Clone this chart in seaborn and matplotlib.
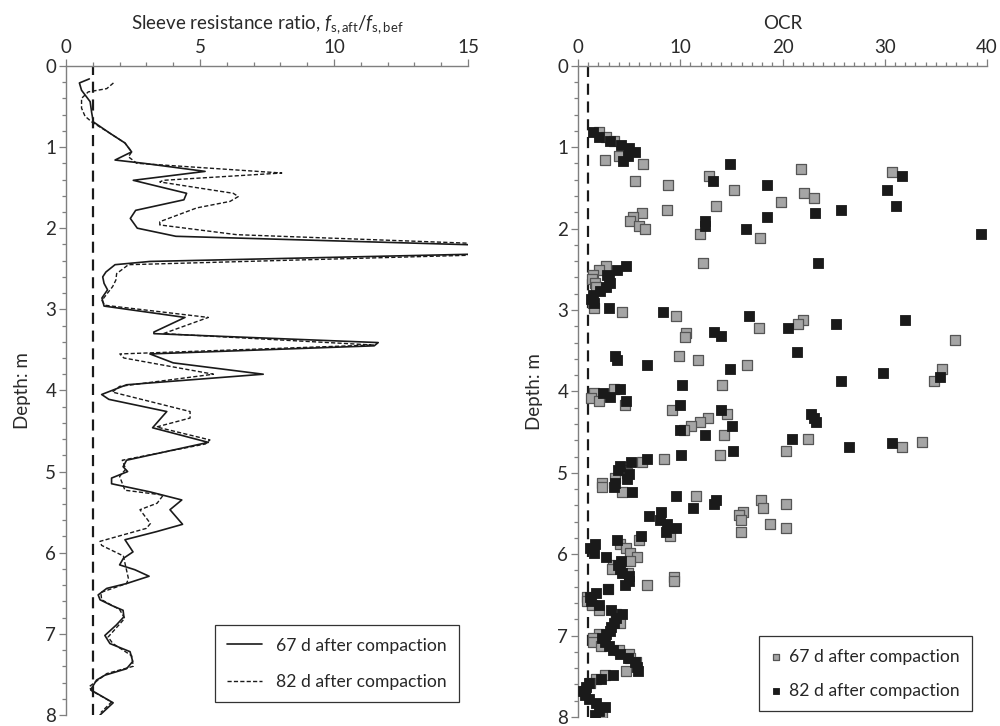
"""
Sleeve resistance ratio and OCR profiles against depth,
67 d and 82 d after compaction.
"""

import matplotlib
matplotlib.use("Agg")
import matplotlib.pyplot as plt
import seaborn as sns
from matplotlib.ticker import MultipleLocator

# ── Sleeve resistance ratio, 67 d (solid) ──────────────────────────────────
depth_67 = [0.16, 0.21, 0.30, 0.44, 0.58, 0.69, 0.83, 0.95, 1.06, 1.09,
            1.16, 1.20, 1.30, 1.41, 1.49, 1.57, 1.65, 1.78, 1.88, 2.00,
            2.10, 2.27, 2.41, 2.45, 2.54, 2.60, 2.68, 2.76, 2.86, 2.96,
            3.10, 3.28, 3.30, 3.41, 3.45, 3.55, 3.66, 3.80, 3.93, 4.05,
            4.11, 4.26, 4.46, 4.64, 4.86, 4.94, 5.00, 5.08, 5.15, 5.25,
            5.35, 5.47, 5.65, 5.74, 5.84, 5.99, 6.07, 6.15, 6.21, 6.29,
            6.38, 6.44, 6.52, 6.58, 6.65, 6.71, 6.79, 6.89, 7.02, 7.12,
            7.22, 7.34, 7.43, 7.51, 7.57, 7.69, 7.85, 8.00]
ratio_67 = [0.87, 0.50, 0.58, 0.90, 0.96, 1.02, 1.64, 2.20, 2.45, 2.26,
            1.83, 2.89, 5.19, 2.51, 3.50, 4.50, 4.40, 2.60, 2.40, 2.66,
            4.10, 22.0, 3.13, 1.83, 1.49, 1.37, 1.42, 1.55, 1.34, 1.42,
            4.44, 3.28, 3.28, 11.65, 11.50, 3.13, 4.00, 7.36, 2.26, 1.33,
            1.60, 3.76, 3.23, 5.31, 2.26, 2.13, 2.30, 1.70, 1.70, 3.13,
            4.32, 3.88, 4.35, 3.38, 2.20, 2.50, 2.14, 2.00, 2.57, 3.10,
            2.26, 1.52, 1.20, 1.27, 1.70, 2.13, 2.16, 1.88, 1.45, 1.64,
            2.39, 2.49, 2.26, 1.45, 1.14, 0.92, 1.76, 1.27]

# ── Sleeve resistance ratio, 82 d (dashed) ─────────────────────────────────
depth_82 = [0.21, 0.28, 0.32, 0.40, 0.52, 0.62, 0.69, 0.83, 0.95, 1.06,
            1.12, 1.20, 1.32, 1.41, 1.43, 1.57, 1.61, 1.67, 1.75, 1.92,
            1.96, 2.08, 2.27, 2.45, 2.56, 2.64, 2.72, 2.80, 2.89, 2.95,
            3.10, 3.30, 3.44, 3.55, 3.60, 3.80, 3.95, 4.02, 4.26, 4.34,
            4.45, 4.61, 4.66, 4.86, 4.97, 5.06, 5.23, 5.29, 5.39, 5.47,
            5.64, 5.70, 5.86, 5.91, 6.04, 6.32, 6.38, 6.49, 6.58, 6.70,
            6.81, 7.04, 7.12, 7.27, 7.40, 7.49, 7.65, 7.70, 7.84, 7.97]
ratio_82 = [1.77, 1.52, 0.83, 0.58, 0.58, 0.71, 0.96, 1.64, 2.20, 2.45,
            2.33, 2.64, 8.05, 3.63, 3.50, 6.24, 6.43, 6.12, 4.88, 3.50,
            3.50, 6.37, 22.0, 2.33, 1.89, 1.86, 1.74, 1.55, 1.34, 1.45,
            5.31, 3.63, 11.47, 2.01, 2.16, 5.50, 2.00, 1.73, 4.63, 4.63,
            3.38, 5.37, 5.20, 2.10, 2.23, 2.00, 2.20, 3.63, 3.40, 2.76,
            3.15, 3.00, 1.27, 1.33, 2.14, 2.33, 2.26, 1.30, 1.33, 2.00,
            2.19, 1.57, 1.75, 2.45, 2.51, 1.52, 0.87, 0.95, 1.70, 1.30]

# ── OCR, 67 d (grey squares) ───────────────────────────────────────────────
ocr_depth_67 = [0.81, 0.87, 0.92, 1.11, 1.16, 1.21, 1.27, 1.31, 1.36, 1.41,
                1.47, 1.52, 1.56, 1.62, 1.67, 1.72, 1.77, 1.81, 1.86, 1.91,
                1.97, 2.01, 2.07, 2.12, 2.42, 2.46, 2.51, 2.57, 2.62, 2.67,
                2.72, 2.92, 2.98, 3.02, 3.07, 3.12, 3.17, 3.22, 3.28, 3.33,
                3.37, 3.57, 3.62, 3.67, 3.72, 3.87, 3.92, 3.97, 4.02, 4.08,
                4.12, 4.17, 4.23, 4.28, 4.33, 4.38, 4.43, 4.47, 4.53, 4.58,
                4.62, 4.68, 4.73, 4.78, 4.83, 4.87, 4.93, 4.97, 5.00, 5.07,
                5.13, 5.18, 5.23, 5.28, 5.33, 5.38, 5.43, 5.48, 5.52, 5.58,
                5.63, 5.68, 5.73, 5.78, 5.83, 5.88, 5.93, 5.98, 6.03, 6.08,
                6.13, 6.18, 6.23, 6.28, 6.33, 6.38, 6.43, 6.53, 6.58, 6.63,
                6.68, 6.73, 6.78, 6.84, 6.98, 7.03, 7.08, 7.13, 7.18, 7.23,
                7.28, 7.33, 7.43, 7.48, 7.53, 7.58, 7.68, 7.95]
ocr_67 = [2.06, 2.70, 3.50, 4.00, 2.64, 6.37, 21.8, 30.7, 12.8, 5.55,
          8.80, 15.3, 22.1, 23.1, 19.9, 13.5, 8.75, 6.24, 5.40, 5.10,
          6.00, 6.56, 11.9, 17.8, 12.2, 2.70, 2.10, 1.47, 1.40, 1.70,
          1.80, 1.50, 1.60, 4.28, 9.63, 22.0, 21.5, 17.7, 10.6, 10.5,
          36.9, 9.83, 11.7, 16.5, 35.6, 34.8, 14.1, 3.50, 1.60, 1.24,
          2.06, 4.60, 9.24, 14.6, 12.7, 11.9, 11.1, 10.4, 14.3, 22.5,
          33.6, 31.7, 20.3, 13.9, 8.40, 6.30, 4.70, 4.60, 4.80, 3.60,
          2.38, 2.30, 4.34, 11.5, 17.9, 20.3, 18.1, 16.1, 15.7, 15.9,
          18.8, 20.3, 15.9, 9.04, 6.00, 4.15, 4.67, 5.06, 5.78, 5.06,
          3.43, 3.36, 4.90, 9.37, 9.37, 6.70, 2.94, 0.88, 0.88, 1.34,
          2.06, 3.69, 3.76, 4.15, 2.10, 1.47, 1.47, 2.22, 4.00, 5.00,
          5.13, 5.65, 4.73, 2.60, 1.73, 1.20, 0.65, 2.38]

# ── OCR, 82 d (black squares) ──────────────────────────────────────────────
ocr_depth_82 = [0.81, 0.87, 0.92, 0.97, 1.01, 1.06, 1.11, 1.17, 1.21, 1.36,
                1.41, 1.47, 1.52, 1.72, 1.77, 1.81, 1.86, 1.91, 1.97, 2.01,
                2.07, 2.42, 2.46, 2.51, 2.57, 2.62, 2.67, 2.72, 2.77, 2.82,
                2.87, 2.92, 2.97, 3.02, 3.07, 3.12, 3.17, 3.22, 3.27, 3.32,
                3.52, 3.57, 3.62, 3.67, 3.72, 3.77, 3.82, 3.87, 3.92, 3.97,
                4.02, 4.07, 4.12, 4.17, 4.23, 4.28, 4.33, 4.38, 4.43, 4.48,
                4.53, 4.58, 4.63, 4.68, 4.73, 4.78, 4.83, 4.87, 4.92, 4.97,
                5.02, 5.08, 5.13, 5.18, 5.23, 5.28, 5.33, 5.38, 5.43, 5.48,
                5.53, 5.58, 5.63, 5.68, 5.73, 5.78, 5.83, 5.88, 5.93, 5.98,
                6.03, 6.08, 6.13, 6.18, 6.23, 6.27, 6.33, 6.38, 6.43, 6.48,
                6.53, 6.58, 6.63, 6.68, 6.73, 6.78, 6.84, 6.89, 6.94, 6.98,
                7.03, 7.08, 7.13, 7.18, 7.23, 7.28, 7.33, 7.38, 7.43, 7.48,
                7.53, 7.58, 7.63, 7.68, 7.73, 7.78, 7.83, 7.88, 7.93, 7.98]
ocr_82 = [1.47, 2.10, 3.10, 4.24, 5.00, 5.55, 4.90, 4.40, 14.9, 31.7,
          13.2, 18.5, 30.2, 31.1, 25.7, 23.2, 18.5, 12.4, 12.4, 16.4,
          39.4, 23.5, 4.73, 3.80, 2.84, 3.00, 3.17, 2.70, 2.20, 1.47,
          1.30, 1.60, 3.00, 8.36, 16.7, 32.0, 25.2, 20.5, 13.3, 14.0,
          21.4, 3.60, 3.85, 6.70, 14.9, 29.8, 35.4, 25.7, 10.2, 4.10,
          2.45, 3.10, 4.73, 9.96, 14.0, 22.8, 23.1, 23.3, 15.1, 9.96,
          12.4, 20.9, 30.7, 26.5, 15.2, 10.1, 6.70, 5.20, 4.10, 3.90,
          5.00, 4.80, 3.60, 3.50, 5.30, 9.57, 13.45, 13.3, 11.2, 8.10,
          6.90, 8.00, 8.75, 9.63, 8.65, 6.14, 3.82, 1.63, 1.14, 1.57,
          2.78, 4.24, 3.92, 4.15, 4.34, 5.00, 5.00, 4.57, 2.94, 1.80,
          1.20, 1.24, 2.06, 3.20, 4.34, 3.69, 3.50, 3.26, 3.10, 2.70,
          2.38, 2.60, 3.00, 3.43, 4.08, 4.90, 5.55, 5.78, 5.88, 3.43,
          2.22, 1.08, 0.75, 0.49, 0.70, 1.08, 1.80, 2.60, 2.10, 1.63]

LABEL_67 = "67 d after compaction"
LABEL_82 = "82 d after compaction"

sns.set_style("white")
plt.rcParams["font.family"] = ["Lato", "DejaVu Sans"]
plt.rcParams["mathtext.fontset"] = "custom"
plt.rcParams["mathtext.rm"] = "Lato"
plt.rcParams["mathtext.it"] = "Lato:italic"

INK = "#1a1a1a"
SPINE = "#7f7f7f"
TXT = "#2a2a2a"
FS = 13.5
LEG_FS = 12.6


def style_axis(ax, xmax, xmajor, xlabel):
    ax.set_xlim(0, xmax)
    ax.set_ylim(8, 0)
    ax.xaxis.set_label_position("top")
    ax.xaxis.tick_top()
    ax.xaxis.set_major_locator(MultipleLocator(xmajor))
    ax.xaxis.set_minor_locator(MultipleLocator(1))
    ax.yaxis.set_major_locator(MultipleLocator(1))
    ax.yaxis.set_minor_locator(MultipleLocator(0.2))
    ax.tick_params(which="both", colors=SPINE, labelcolor=TXT,
                   labelsize=FS, width=0.9)
    ax.tick_params(which="major", length=5, pad=2)
    ax.tick_params(which="minor", length=3)
    ax.tick_params(axis="x", which="both", top=True, bottom=False,
                   direction="out")
    ax.tick_params(axis="y", which="both", left=True, direction="out")
    for side in ("right", "bottom"):
        ax.spines[side].set_visible(False)
    for side in ("left", "top"):
        ax.spines[side].set_color(SPINE)
        ax.spines[side].set_linewidth(1.0)
    ax.set_xlabel(xlabel, fontsize=FS, color=TXT, labelpad=7)
    ax.set_ylabel("Depth: m", fontsize=FS, color=TXT, labelpad=10)
    ax.axvline(1, color=INK, lw=1.6, ls=(0, (5, 3)), zorder=1)


fig = plt.figure(figsize=(10, 7.26), dpi=100)
ax1 = fig.add_axes([0.066, 0.0152, 0.402, 0.894])
ax2 = fig.add_axes([0.578, 0.0124, 0.409, 0.897])

# ── Left: sleeve resistance ratio ─────────────────────────────────────────
sns.lineplot(x=ratio_67, y=depth_67, sort=False, estimator=None, ax=ax1,
             color=INK, lw=1.2, label=LABEL_67)
sns.lineplot(x=ratio_82, y=depth_82, sort=False, estimator=None, ax=ax1,
             color=INK, lw=1.0, ls=(0, (3, 1.6)), label=LABEL_82)
style_axis(ax1, 15, 5,
           r"Sleeve resistance ratio, $f_{\mathrm{s,aft}}/f_{\mathrm{s,bef}}$")
leg1 = ax1.legend(loc="lower right", bbox_to_anchor=(0.978, 0.02),
                  fontsize=LEG_FS, frameon=True, fancybox=False, framealpha=1,
                  edgecolor="#333333", handlelength=2.0, labelspacing=1.15,
                  borderpad=0.7, handletextpad=0.8, borderaxespad=0)
leg1.get_frame().set_linewidth(0.9)

# ── Right: OCR ────────────────────────────────────────────────────────────
sns.scatterplot(x=ocr_67, y=ocr_depth_67, ax=ax2, marker="s", s=42,
                color="#a5a5a5", edgecolor="#555555", linewidth=0.9,
                label=LABEL_67, zorder=3)
sns.scatterplot(x=ocr_82, y=ocr_depth_82, ax=ax2, marker="s", s=42,
                color=INK, edgecolor=INK, linewidth=0.6,
                label=LABEL_82, zorder=4)
style_axis(ax2, 40, 10, "OCR")
leg2 = ax2.legend(loc="lower right", bbox_to_anchor=(0.963, 0.009),
                  fontsize=LEG_FS, frameon=True, fancybox=False, framealpha=1,
                  edgecolor="#333333", handlelength=0.5, labelspacing=1.05,
                  borderpad=0.7, handletextpad=0.5, markerscale=0.75,
                  borderaxespad=0)
leg2.get_frame().set_linewidth(0.9)

fig.savefig("out.png", dpi=100)
